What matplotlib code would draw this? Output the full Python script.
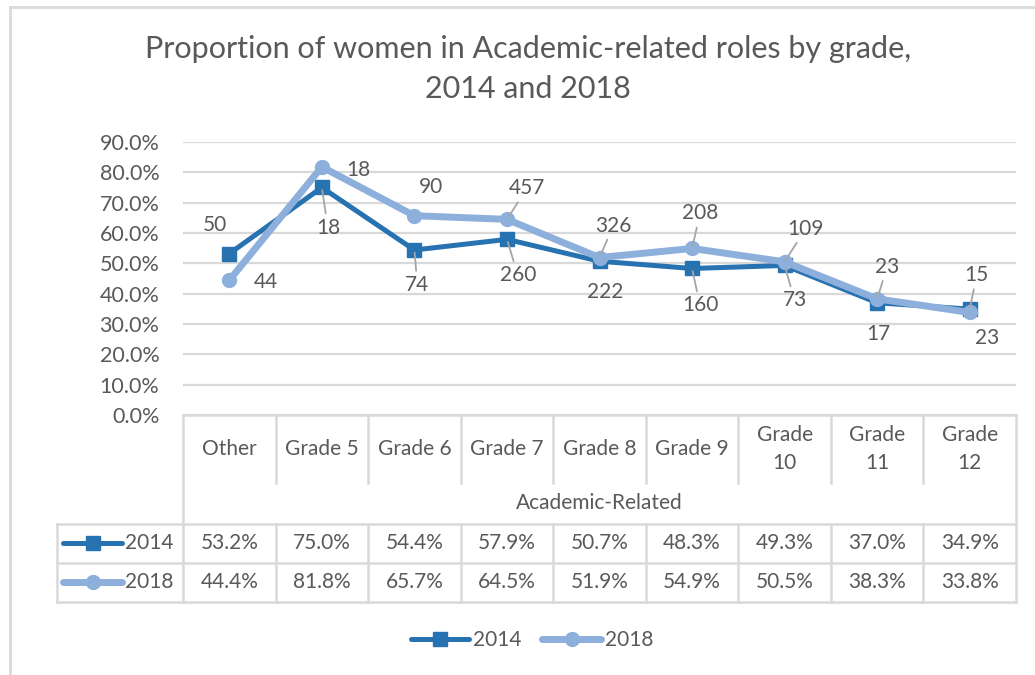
import matplotlib.pyplot as plt
import numpy as np
from matplotlib.lines import Line2D
from matplotlib.transforms import blended_transform_factory

plt.rcParams['font.family'] = ['Lato', 'DejaVu Sans']

# data
categories = ['Other', 'Grade 5', 'Grade 6', 'Grade 7', 'Grade 8', 'Grade 9',
              'Grade\n10', 'Grade\n11', 'Grade\n12']
group_label = 'Academic-Related'
series_names = ['2014', '2018']
pct_2014 = [53.2, 75.0, 54.4, 57.9, 50.7, 48.3, 49.3, 37.0, 34.9]
pct_2018 = [44.4, 81.8, 65.7, 64.5, 51.9, 54.9, 50.5, 38.3, 33.8]
n_2014 = [50, 18, 74, 260, 222, 160, 73, 17, 15]
n_2018 = [44, 18, 90, 457, 326, 208, 109, 23, 23]
y_ticks = np.arange(0, 91, 10)

# label placement (pixel offsets, leader line on/off)
off_2014 = [(-14, 29, 0), (6, -40, 1), (3, -35, 1), (11, -36, 1), (6, -31, 0),
            (8, -37, 1), (10, -35, 1), (1, -31, 0), (7, 34, 1)]
off_2018 = [(37, -2, 0), (36, -3, 0), (17, 29, 0), (20, 31, 1), (14, 32, 1),
            (8, 35, 1), (21, 33, 1), (10, 32, 1), (17, -26, 0)]

TXT = '#595959'
GRID = '#D9D9D9'
C14 = '#2772B1'
C18 = '#8DAFDB'
FS = 15

W, H = 1035, 675
fig = plt.figure(figsize=(W / 100, H / 100), dpi=100)

def fx(px):
    return px / W

def fy(py):
    return 1 - py / H

ax = fig.add_axes([fx(183), fy(415), fx(1016) - fx(183), (415 - 142) / H])

x = np.arange(len(categories))
ax.plot(x, pct_2014, color=C14, lw=3.6, marker='s', markersize=10, zorder=3)
ax.plot(x, pct_2018, color=C18, lw=5, marker='o', markersize=10, zorder=4)

for vals, ns, offs in [(pct_2014, n_2014, off_2014), (pct_2018, n_2018, off_2018)]:
    for i, (v, n, (dx, dy, lead)) in enumerate(zip(vals, ns, offs)):
        arrow = dict(arrowstyle='-', color='#A6A6A6', lw=1.3, shrinkA=1, shrinkB=2) if lead else None
        ax.annotate(str(n), xy=(i, v), xytext=(dx, dy), textcoords='offset pixels',
                    ha='center', va='center', fontsize=FS, color=TXT,
                    arrowprops=arrow, zorder=6)

ax.set_xlim(-0.5, len(categories) - 0.5)
ax.set_ylim(0, 90)
ax.set_yticks(y_ticks)
ax.set_yticklabels([f'{t:.1f}%' for t in y_ticks], fontsize=15.5, color=TXT)
ax.set_xticks([])
ax.tick_params(axis='y', length=0, pad=17)
ax.grid(axis='y', color=GRID, lw=1.6)
ax.set_axisbelow(True)
for s in ax.spines.values():
    s.set_visible(False)

# data table below the axis
tr = blended_transform_factory(ax.transData, fig.transFigure)
lk = dict(color=GRID, lw=1.8, clip_on=False)
x0 = -0.5
x1 = len(categories) - 0.5
ax.plot([x0, x1], [fy(415), fy(415)], transform=tr, **lk)
ax.plot([x0, x0], [fy(415), fy(602)], transform=tr, **lk)
ax.plot([x1, x1], [fy(415), fy(602)], transform=tr, **lk)
for b in np.arange(0.5, len(categories) - 1, 1.0):
    ax.plot([b, b], [fy(415), fy(483)], transform=tr, **lk)
    ax.plot([b, b], [fy(524), fy(602)], transform=tr, **lk)
for py in (524, 563, 602):
    fig.add_artist(Line2D([fx(57), fx(1016)], [fy(py), fy(py)], color=GRID, lw=1.8))
fig.add_artist(Line2D([fx(57), fx(57)], [fy(524), fy(602)], color=GRID, lw=1.8))

for i, c in enumerate(categories):
    ax.text(i, fy(449), c, transform=tr, ha='center', va='center', fontsize=FS,
            color=TXT, linespacing=1.5)
ax.text((len(categories) - 1) / 2, fy(503), group_label, transform=tr, ha='center',
        va='center', fontsize=FS, color=TXT)

for row_y, name, vals, col, mk, lw in [(543, series_names[0], pct_2014, C14, 's', 3.6),
                                      (582, series_names[1], pct_2018, C18, 'o', 5)]:
    fig.add_artist(Line2D([fx(63), fx(122)], [fy(row_y), fy(row_y)], color=col, lw=lw,
                          solid_capstyle='round'))
    fig.add_artist(Line2D([fx(92.5)], [fy(row_y)], color=col, marker=mk, markersize=10))
    fig.text(fx(125), fy(row_y), name, ha='left', va='center', fontsize=FS, color=TXT)
    for i, v in enumerate(vals):
        ax.text(i, fy(row_y), f'{v:.1f}%', transform=tr, ha='center', va='center',
                fontsize=FS, color=TXT)

# title
fig.text(fx(528), fy(58), 'Proportion of women in Academic-related roles by grade,',
         ha='center', va='baseline', fontsize=22, color=TXT)
fig.text(fx(528), fy(98), '2014 and 2018', ha='center', va='baseline', fontsize=22,
         color=TXT)

# legend
handles = [Line2D([], [], color=C14, lw=3.6, marker='s', markersize=10, solid_capstyle='round'),
           Line2D([], [], color=C18, lw=5, marker='o', markersize=10, solid_capstyle='round')]
fig.legend(handles, series_names, loc='center', bbox_to_anchor=(fx(532), fy(640)), ncol=2,
           frameon=False, fontsize=FS, handlelength=2.8, handletextpad=0.2,
           columnspacing=1.0, labelcolor=TXT)

# chart border
fig.add_artist(Line2D([fx(10), fx(10)], [fy(7), 0], color=GRID, lw=2))
fig.add_artist(Line2D([fx(10), 1], [fy(7), fy(7)], color=GRID, lw=2))

fig.savefig('out.png', dpi=100)
